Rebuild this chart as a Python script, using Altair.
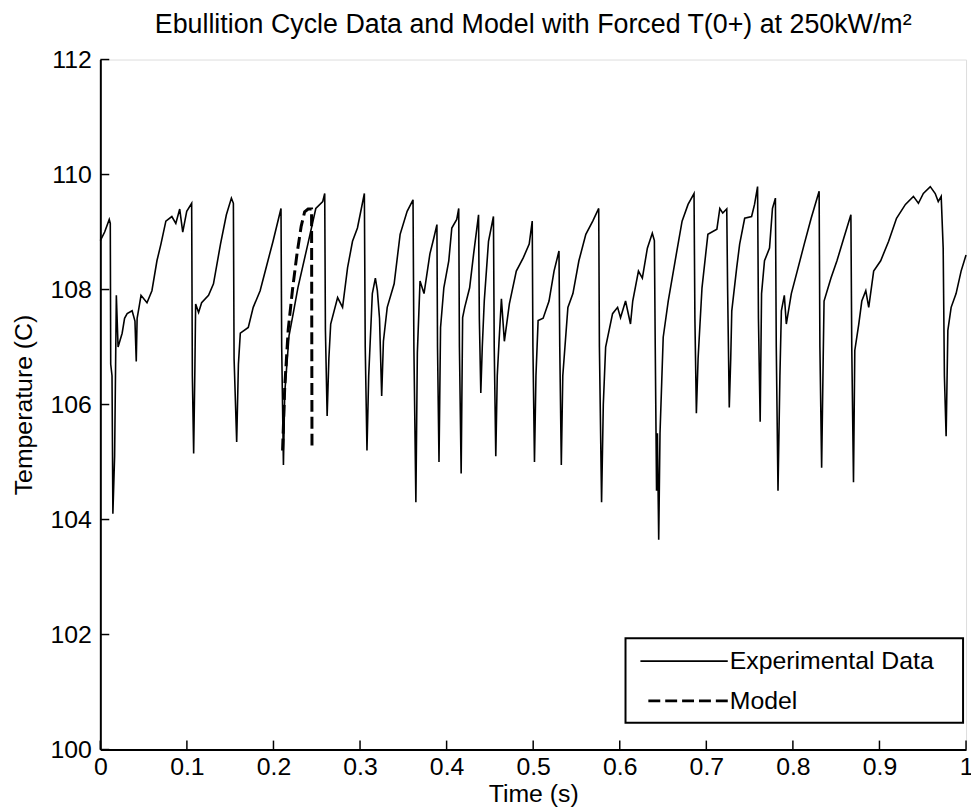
import altair as alt
import pandas as pd

# ---------------- data ----------------
exp_time = [
    0.000, 0.005, 0.0103, 0.0115, 0.012, 0.0135, 0.0145, 0.0165, 0.0185, 0.0205, 0.0252, 0.028, 0.031, 0.0367, 0.040, 0.0415, 0.0425, 0.0447, 0.047, 0.0539, 0.0596, 0.0654, 0.070, 0.0757, 0.0826, 0.0872, 0.0917, 0.0952, 0.0998, 0.1055,
    0.1063, 0.1078, 0.1092, 0.1101, 0.1135, 0.117, 0.125, 0.1307, 0.1388, 0.1456, 0.1514, 0.1537,
    0.1545, 0.1575, 0.1595, 0.1617, 0.1709, 0.1766, 0.1846, 0.1915, 0.1995, 0.2087,
    0.2095, 0.2115, 0.2130, 0.2180, 0.2230, 0.2282, 0.2397, 0.2489, 0.2569, 0.2592,
    0.2600, 0.2620, 0.2640, 0.2661, 0.2741, 0.2798, 0.2856, 0.2913, 0.2970, 0.3050,
    0.3060, 0.3080, 0.3100, 0.3142, 0.3177, 0.3200, 0.3225, 0.3250, 0.3270, 0.3314, 0.3394, 0.3463, 0.3544, 0.3612,
    0.3622, 0.3645, 0.3662, 0.3693, 0.3739, 0.3807, 0.3853, 0.3888,
    0.3895, 0.3912, 0.3930, 0.3968, 0.4025, 0.4060, 0.4117, 0.4140,
    0.4148, 0.4168, 0.4185, 0.4209, 0.4266, 0.4312, 0.4369,
    0.4378, 0.4395, 0.4412, 0.4435, 0.4484, 0.4541,
    0.4550, 0.4568, 0.4585, 0.4605, 0.4633, 0.4667, 0.4725, 0.4805, 0.4885, 0.4954, 0.4989,
    0.4997, 0.5015, 0.5032, 0.5057, 0.5115, 0.5183, 0.5241, 0.5298,
    0.5307, 0.5325, 0.5342, 0.5401, 0.5459, 0.5528, 0.5608, 0.5688, 0.5757,
    0.5765, 0.5790, 0.5810, 0.5837, 0.5917, 0.5975, 0.6009, 0.6067, 0.6124, 0.6150, 0.6216, 0.6261, 0.6319, 0.6376, 0.6400,
    0.6410, 0.6425, 0.6435, 0.6450, 0.6465, 0.6485, 0.6502, 0.6560, 0.6640, 0.6720, 0.6789, 0.6858,
    0.6868, 0.6885, 0.6905, 0.6950, 0.7018, 0.7122, 0.7156, 0.7190, 0.7236,
    0.7246, 0.7265, 0.7282, 0.7294, 0.7351, 0.7385, 0.7443, 0.7523, 0.7557, 0.7592,
    0.7602, 0.7622, 0.7638, 0.7672, 0.7730, 0.7764, 0.7798,
    0.7808, 0.7828, 0.7850, 0.7867, 0.7901, 0.7924, 0.7982, 0.8050, 0.8131, 0.8211, 0.8303,
    0.8312, 0.8332, 0.8350, 0.8360, 0.8440, 0.8509, 0.8589, 0.8670,
    0.8680, 0.8700, 0.8715, 0.8761, 0.8796, 0.8842, 0.8876, 0.8933, 0.9014, 0.9106, 0.9197, 0.9300, 0.9392, 0.9450, 0.9507, 0.9587, 0.9644, 0.9679, 0.9713, 0.9736,
    0.9750, 0.9770, 0.9790, 0.9828, 0.9885, 0.9943, 1.000,
]
exp_temp = [
    108.85, 109.0, 109.22, 109.15, 106.7, 106.5, 104.1, 105.1, 107.9, 107.0, 107.24, 107.5, 107.58, 107.63, 107.45, 106.75, 107.5, 107.69, 107.9, 107.77, 107.98, 108.5, 108.79, 109.19, 109.27, 109.15, 109.4, 109.0, 109.36, 109.5,
    106.5, 105.15, 106.6, 107.75, 107.6, 107.77, 107.9, 108.1, 108.79, 109.3, 109.59, 109.5,
    106.8, 105.35, 106.7, 107.24, 107.34, 107.69, 107.98, 108.38, 108.84, 109.41,
    107.0, 104.95, 106.2, 107.2, 107.6, 108.03, 108.79, 109.41, 109.53, 109.67,
    107.3, 105.8, 106.8, 107.4, 107.86, 107.69, 108.38, 108.84, 109.07, 109.67,
    107.0, 105.2, 106.5, 107.93, 108.2, 107.98, 107.5, 106.15, 107.1, 107.69, 108.1, 108.96, 109.36, 109.56,
    107.0, 104.3, 106.9, 108.15, 107.93, 108.62, 108.9, 109.13,
    107.0, 105.0, 107.34, 108.03, 108.5, 109.07, 109.22, 109.41,
    107.0, 104.8, 107.51, 107.69, 108.03, 108.62, 109.3,
    107.5, 106.2, 107.0, 107.8, 108.84, 109.27,
    107.0, 105.1, 106.5, 107.08, 107.84, 107.1, 107.75, 108.32, 108.55, 108.79, 109.19,
    107.0, 105.0, 106.5, 107.46, 107.5, 107.8, 108.32, 108.67,
    107.0, 104.95, 106.5, 107.69, 107.93, 108.5, 108.96, 109.19, 109.41,
    107.0, 104.3, 106.0, 107.0, 107.58, 107.69, 107.51, 107.8, 107.4, 107.8, 108.32, 108.2, 108.72, 108.98, 108.85,
    107.0, 104.5, 105.5, 103.65, 105.5, 106.4, 107.17, 107.8, 108.5, 109.19, 109.48, 109.67,
    107.5, 105.85, 106.8, 108.03, 108.96, 109.05, 109.41, 109.33, 109.4,
    108.0, 105.95, 106.8, 107.63, 108.38, 108.79, 109.24, 109.27, 109.48, 109.79,
    107.5, 105.7, 107.93, 108.5, 108.72, 109.41, 109.59,
    107.0, 104.5, 106.5, 107.63, 107.9, 107.4, 107.93, 108.32, 108.79, 109.24, 109.71,
    107.0, 104.9, 106.8, 107.8, 108.2, 108.5, 108.9, 109.3,
    107.0, 104.65, 106.94, 107.4, 107.8, 107.98, 107.69, 108.32, 108.5, 108.84, 109.24, 109.48, 109.62, 109.5, 109.67, 109.79, 109.67, 109.53, 109.62, 108.72,
    106.5, 105.45, 107.29, 107.69, 107.93, 108.32, 108.6,
]
model_time = [0.2105, 0.2130, 0.2170, 0.2220, 0.2270, 0.2320, 0.2360, 0.2400, 0.2440, 0.2445]
model_temp = [105.2, 106.3, 107.3, 108.0, 108.6, 109.1, 109.35, 109.4, 109.4, 105.2]

x_ticks = [0, 0.1, 0.2, 0.3, 0.4, 0.5, 0.6, 0.7, 0.8, 0.9, 1]
y_ticks = [100, 102, 104, 106, 108, 110, 112]
legend_labels = ["Experimental Data", "Model"]
title_text = "Ebullition Cycle Data and Model with Forced T(0+) at 250kW/m²"

assert len(exp_time) == len(exp_temp)

# ---------------- layout / style ----------------
W, H = 872, 695
FONT = "Liberation Sans"
FS = 25

exp_df = pd.DataFrame({"t": exp_time, "T": exp_temp})
model_df = pd.DataFrame({"t": model_time, "T": model_temp})
xt_df = pd.DataFrame({"t": x_ticks})
yt_df = pd.DataFrame({"T": y_ticks})
one = pd.DataFrame({"k": [0]})

xs = alt.Scale(domain=[0, 1], nice=False, zero=False)
ys = alt.Scale(domain=[100, 112], nice=False, zero=False)

x_axis = alt.Axis(values=x_ticks, format="~g", title="Time (s)", ticks=False, grid=False,
                  labelFlush=False, labelPadding=5, titlePadding=2,
                  domainColor="black", domainWidth=2,
                  labelFont=FONT, labelFontSize=FS, labelColor="black",
                  titleFont=FONT, titleFontSize=FS, titleFontWeight="normal", titleColor="black")
y_axis = alt.Axis(values=y_ticks, format="d", title="Temperature (C)", ticks=False, grid=False,
                  labelPadding=9, titlePadding=14, domainColor="black", domainWidth=2,
                  labelFont=FONT, labelFontSize=FS, labelColor="black",
                  titleFont=FONT, titleFontSize=FS, titleFontWeight="normal", titleColor="black")

exp = alt.Chart(exp_df).mark_line(color="black", strokeWidth=1.6).encode(
    x=alt.X("t:Q", scale=xs, axis=x_axis),
    y=alt.Y("T:Q", scale=ys, axis=y_axis),
)
model = alt.Chart(model_df).mark_line(color="black", strokeWidth=3, strokeDash=[12, 5]).encode(
    x=alt.X("t:Q", scale=xs),
    y=alt.Y("T:Q", scale=ys),
)
yticks = alt.Chart(yt_df).mark_rule(color="black", strokeWidth=1.5).encode(
    y=alt.Y("T:Q", scale=ys), x=alt.value(0), x2=alt.value(9)
)
xticks = alt.Chart(xt_df).mark_rule(color="black", strokeWidth=1.5).encode(
    x=alt.X("t:Q", scale=xs), y=alt.value(H), y2=alt.value(H - 9)
)

box = alt.Chart(one).mark_rect(fill="white", stroke="black", strokeWidth=2).encode(
    x=alt.value(529), x2=alt.value(869), y=alt.value(583), y2=alt.value(668)
)
leg1 = alt.Chart(one).mark_rule(color="black", strokeWidth=1.6).encode(
    x=alt.value(544), x2=alt.value(632), y=alt.value(606)
)
leg2 = alt.Chart(one).mark_rule(color="black", strokeWidth=3, strokeDash=[12, 5]).encode(
    x=alt.value(552), x2=alt.value(632), y=alt.value(646)
)
txt1 = alt.Chart(one).mark_text(font=FONT, fontSize=FS, align="left", baseline="middle", color="black").encode(
    x=alt.value(634), y=alt.value(606), text=alt.value(legend_labels[0])
)
txt2 = alt.Chart(one).mark_text(font=FONT, fontSize=FS, align="left", baseline="middle", color="black").encode(
    x=alt.value(634), y=alt.value(646), text=alt.value(legend_labels[1])
)

chart = alt.layer(exp, model, yticks, xticks, box, leg1, leg2, txt1, txt2).properties(
    width=W, height=H,
    title=alt.TitleParams(title_text, font=FONT, fontSize=27, fontWeight="normal",
                          color="black", anchor="middle", offset=9),
    padding={"left": 93, "top": 49, "right": 5, "bottom": 57},
    autosize=alt.AutoSizeParams(type="none"),
).configure_view(stroke=None).configure(background="white")

chart.save("out.html", embed_options={"renderer": "svg", "actions": False})
